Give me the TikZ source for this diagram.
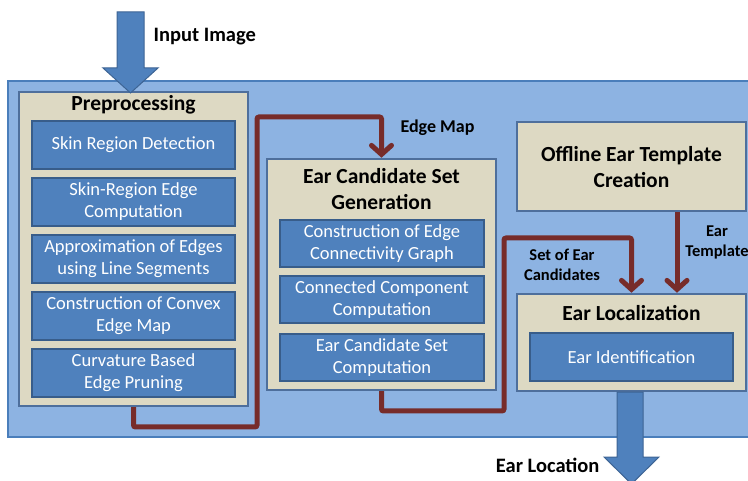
\documentclass[tikz,border=0pt]{standalone}
\usepackage{fontspec}
\setmainfont{Carlito}
\usetikzlibrary{arrows.meta}
\definecolor{bgblue}{HTML}{8DB3E2}
\definecolor{bgedge}{HTML}{4A7EBB}
\definecolor{boxblue}{HTML}{4F81BD}
\definecolor{boxedge}{HTML}{385D8A}
\definecolor{tan}{HTML}{DDD9C3}
\definecolor{tanedge}{HTML}{4E6F9C}
\definecolor{maroon}{HTML}{772C2A}
\tikzset{
  x=1pt,y=-1pt,
  group/.style={draw=tanedge,line width=2.5pt,fill=tan,inner sep=0pt},
  sub/.style={draw=boxedge,line width=2pt,fill=boxblue,text=white,align=center,
    minimum width=203pt,minimum height=48pt,inner sep=0pt,font=\fontsize{18.5}{22}\selectfont},
  ttl/.style={font=\bfseries\fontsize{21.5}{26}\selectfont,align=center,text=black},
  lbl/.style={font=\bfseries\fontsize{20.5}{24}\selectfont,text=black},
  slbl/.style={font=\bfseries\fontsize{16.5}{19.5}\selectfont,align=center,text=black},
  conn/.style={draw=maroon,line width=5pt,rounded corners=2pt,
    -{Straight Barb[length=9pt,width=20pt,line cap=round]}},
  bigarrow/.style={fill=boxblue,draw=boxedge!80!boxblue,line width=1pt}
}
\begin{document}
\begin{tikzpicture}
\useasboundingbox (0,0) rectangle (748,481);
\begin{scope}
\clip (0,0) rectangle (748,481);
% background panel
\draw[fill=bgblue,draw=bgedge,line width=1.5pt] (8,81) rectangle (760,437);

% Preprocessing group
\node[group,minimum width=229pt,minimum height=314pt] (pre) at (133.5,249) {};
\node[ttl] (pret) at (133.5,105) {Preprocessing};
\node[sub] (p1) at (133.5,145) {Skin Region Detection};
\node[sub] (p2) at (133.5,202) {Skin-Region Edge\\Computation};
\node[sub] (p3) at (133.5,259) {Approximation of Edges\\using Line Segments};
\node[sub] (p4) at (133.5,316) {Construction of Convex\\Edge Map};
\node[sub] (p5) at (133.5,373) {Curvature Based\\Edge Pruning};

% Ear candidate set generation group
\node[group,minimum width=229pt,minimum height=231pt] (ecs) at (381.5,274.5) {};
\node[ttl] (ecst) at (381.5,189) {Ear Candidate Set\\Generation};
\node[sub,minimum width=204pt,minimum height=47pt] (e1) at (382,243.5) {Construction of Edge\\Connectivity Graph};
\node[sub,minimum width=204pt,minimum height=47pt] (e2) at (382,300) {Connected Component\\Computation};
\node[sub,minimum width=204pt,minimum height=47pt] (e3) at (382,357.5) {Ear Candidate Set\\Computation};

% Offline template
\node[group,minimum width=229pt,minimum height=89pt] (off) at (631.5,166.5) {};
\node[ttl] (offt) at (631.5,167) {Offline Ear Template\\Creation};

% Ear localization
\node[group,minimum width=229pt,minimum height=97pt] (loc) at (631.5,342.5) {};
\node[ttl] (loct) at (631.5,313) {Ear Localization};
\node[sub] (l1) at (631.5,357.5) {Ear Identification};

% connectors
\coordinate (c1) at (257,427);
\coordinate (c2) at (257,117);
\draw[conn] (pre.south) |- (c1) -- (c2) -| (ecs.north);
\coordinate (c3) at (504,411);
\coordinate (c4) at (504,238);
\draw[conn] (ecs.south) |- (c3) -- (c4) -| (loc.north);
\coordinate (tx) at (677,0);
\draw[conn] (off.south -| tx) -- (loc.north -| tx);

% big arrows
\draw[bigarrow] (117,12) -- (144,12) -- (144,68) -- (158,68) -- (130.5,93) -- (103,68) -- (117,68) -- cycle;
\draw[bigarrow] (loc.south -| 617,0) -- (loc.south -| 643,0) -- (643,457) -- (659,457) -- (631.5,484) -- (604,457) -- (617,457) -- cycle;

% labels
\node[lbl,anchor=west] (inl) at (150,37) {Input Image};
\node[lbl,anchor=west,font=\bfseries\fontsize{18}{21}\selectfont] (eml) at (397,128) {Edge Map};
\node[slbl] (secl) at (562,265) {Set of Ear\\Candidates};
\node[slbl] (etl) at (717,242.5) {Ear\\Template};
\node[lbl,anchor=east] (ell) at (603,465) {Ear Location};
\end{scope}
\end{tikzpicture}
\end{document}
